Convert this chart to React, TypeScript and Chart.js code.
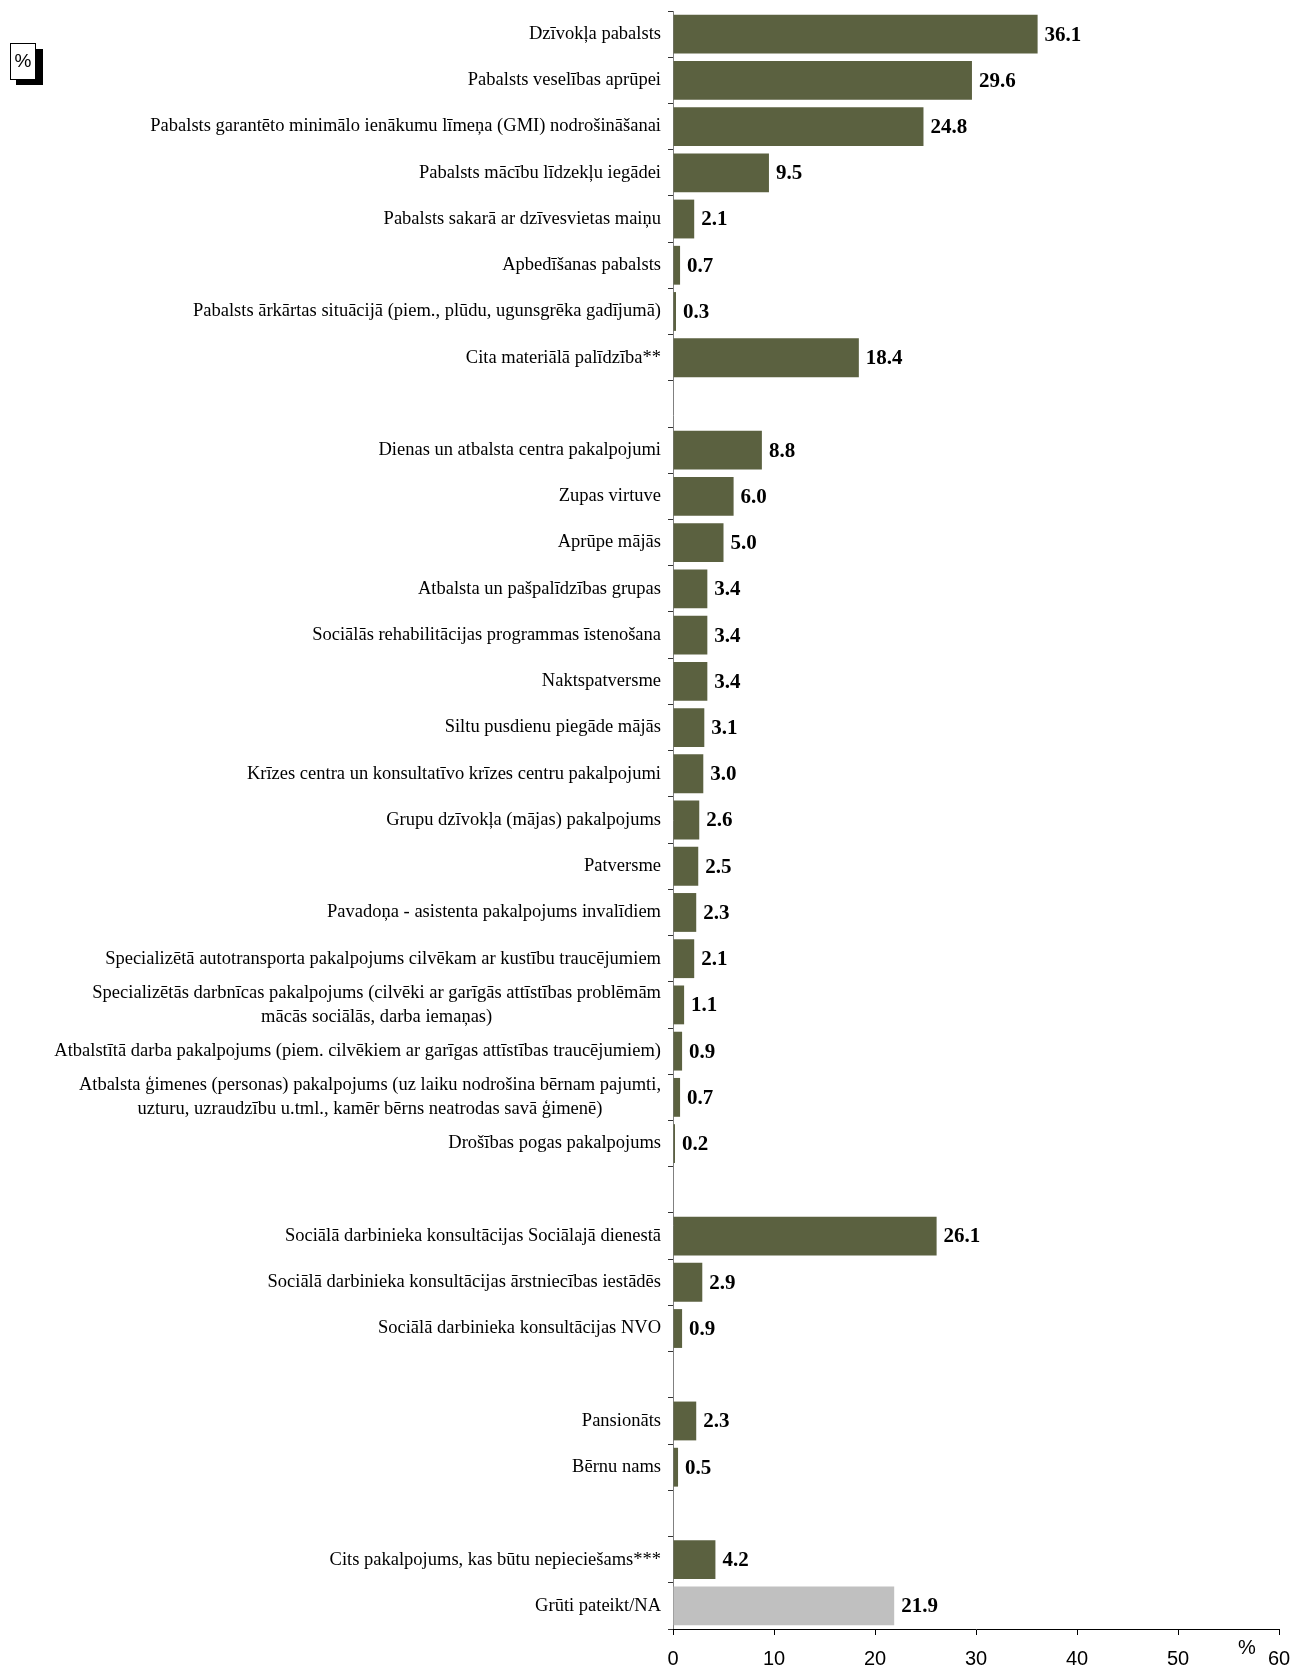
import React, { useEffect, useRef } from 'react';
import { Chart, registerables } from 'chart.js';

Chart.register(...registerables);

// Categories (empty strings are visual gaps between groups)
const categories: (string | string[])[] = [
  'Dzīvokļa pabalsts',
  'Pabalsts veselības aprūpei',
  'Pabalsts garantēto minimālo ienākumu līmeņa (GMI) nodrošināšanai',
  'Pabalsts mācību līdzekļu iegādei',
  'Pabalsts sakarā ar dzīvesvietas maiņu',
  'Apbedīšanas pabalsts',
  'Pabalsts ārkārtas situācijā (piem., plūdu, ugunsgrēka gadījumā)',
  'Cita materiālā palīdzība**',
  '',
  'Dienas un atbalsta centra pakalpojumi',
  'Zupas virtuve',
  'Aprūpe mājās',
  'Atbalsta un pašpalīdzības grupas',
  'Sociālās rehabilitācijas programmas īstenošana',
  'Naktspatversme',
  'Siltu pusdienu piegāde mājās',
  'Krīzes centra un konsultatīvo krīzes centru pakalpojumi',
  'Grupu dzīvokļa (mājas) pakalpojums',
  'Patversme',
  'Pavadoņa - asistenta pakalpojums invalīdiem',
  'Specializētā autotransporta pakalpojums cilvēkam ar kustību traucējumiem',
  ['Specializētās darbnīcas pakalpojums (cilvēki ar garīgās attīstības problēmām', 'mācās sociālās, darba iemaņas)'],
  'Atbalstītā darba pakalpojums (piem. cilvēkiem ar garīgas attīstības traucējumiem)',
  ['Atbalsta ģimenes (personas) pakalpojums (uz laiku nodrošina bērnam pajumti,', 'uzturu, uzraudzību u.tml., kamēr bērns neatrodas savā ģimenē)'],
  'Drošības pogas pakalpojums',
  '',
  'Sociālā darbinieka konsultācijas Sociālajā dienestā',
  'Sociālā darbinieka konsultācijas ārstniecības iestādēs',
  'Sociālā darbinieka konsultācijas NVO',
  '',
  'Pansionāts',
  'Bērnu nams',
  '',
  'Cits pakalpojums, kas būtu nepieciešams***',
  'Grūti pateikt/NA',
];

const values: (number | null)[] = [
  36.1, 29.6, 24.8, 9.5, 2.1, 0.7, 0.3, 18.4,
  null,
  8.8, 6.0, 5.0, 3.4, 3.4, 3.4, 3.1, 3.0, 2.6, 2.5, 2.3, 2.1, 1.1, 0.9, 0.7, 0.2,
  null,
  26.1, 2.9, 0.9,
  null,
  2.3, 0.5,
  null,
  4.2, 21.9,
];

const neutralCategory = 'Grūti pateikt/NA';
const xMin = 0;
const xMax = 60;
const xStep = 10;
const unitLabel = '%';

const OLIVE = '#5B6140';
const GRAY = '#C0C0C0';
const SERIF = '"Liberation Serif", "Times New Roman", serif';
const SANS = '"Liberation Sans", Arial, sans-serif';

const W = 1293;
const H = 1668;

export default function App() {
  const ref = useRef<HTMLCanvasElement | null>(null);

  useEffect(() => {
    if (!ref.current) return;

    const labelsPlugin = {
      id: 'customLabels',
      afterDraw(chart: any) {
        const ctx = chart.ctx;
        const yScale = chart.scales.y;
        const xScale = chart.scales.x;
        ctx.save();
        // Category labels
        ctx.font = `18.5px ${SERIF}`;
        ctx.fillStyle = '#000';
        ctx.textBaseline = 'middle';
        const rightX = yScale.right - 12;
        const lineH = 24;
        categories.forEach((lab, i) => {
          if (!lab || (typeof lab === 'string' && lab.length === 0)) return;
          const y = yScale.getPixelForValue(i);
          if (Array.isArray(lab)) {
            const widths = lab.map((l) => ctx.measureText(l).width);
            const maxW = Math.max(...widths);
            const cx = rightX - maxW / 2;
            ctx.textAlign = 'center';
            const startY = y - ((lab.length - 1) * lineH) / 2;
            lab.forEach((l, k) => ctx.fillText(l, cx, startY + k * lineH));
          } else {
            ctx.textAlign = 'right';
            ctx.fillText(lab, rightX, y);
          }
        });
        // Value labels
        ctx.font = `bold 21px ${SERIF}`;
        ctx.textAlign = 'left';
        const meta = chart.getDatasetMeta(0);
        meta.data.forEach((el: any, i: number) => {
          const v = values[i];
          if (v === null || v === undefined) return;
          ctx.fillText(v.toFixed(1), el.x + 7, el.y + 1);
        });
        // Unit near x axis end
        ctx.font = `20px ${SANS}`;
        ctx.textAlign = 'center';
        ctx.fillText(unitLabel, xScale.right - 32, xScale.top + 19);
        // Boxed % in top-left corner
        ctx.fillStyle = '#000';
        ctx.fillRect(16, 49, 27, 36);
        ctx.fillStyle = '#fff';
        ctx.fillRect(10, 43, 25, 36);
        ctx.strokeStyle = '#000';
        ctx.lineWidth = 1;
        ctx.strokeRect(10.5, 43.5, 25, 36);
        ctx.fillStyle = '#000';
        ctx.font = `19px ${SANS}`;
        ctx.fillText(unitLabel, 23, 62);
        ctx.restore();
      },
    };

    const chart = new Chart(ref.current, {
      type: 'bar',
      data: {
        labels: categories.map((c) => (Array.isArray(c) ? c.join(' ') : c)),
        datasets: [
          {
            data: values,
            backgroundColor: categories.map((c) => (c === neutralCategory ? GRAY : OLIVE)),
            borderWidth: 0,
            barPercentage: 0.84,
            categoryPercentage: 1,
          },
        ],
      },
      options: {
        indexAxis: 'y',
        responsive: false,
        animation: false,
        devicePixelRatio: 1,
        layout: { padding: { top: 11, right: 0, left: 0, bottom: 0 } },
        plugins: {
          legend: { display: false },
          tooltip: { enabled: false },
        },
        scales: {
          y: {
            type: 'category',
            offset: true,
            grid: {
              offset: true,
              drawOnChartArea: false,
              drawTicks: true,
              tickLength: 5,
              color: '#333',
            },
            border: { display: true, color: '#808080', width: 1 },
            ticks: { display: false, autoSkip: false },
            afterFit(scale: any) {
              scale.width = 673;
            },
          },
          x: {
            min: xMin,
            max: xMax,
            grid: {
              drawOnChartArea: false,
              drawTicks: true,
              tickLength: 6,
              color: '#000',
            },
            border: { display: true, color: '#000', width: 1 },
            ticks: {
              stepSize: xStep,
              color: '#000',
              font: { family: SANS, size: 20 },
              padding: 12,
              maxRotation: 0,
            },
            afterFit(scale: any) {
              scale.height = 39;
              scale.paddingRight = 14;
              scale.paddingLeft = 0;
            },
          },
        },
      },
      plugins: [labelsPlugin],
    } as any);

    return () => chart.destroy();
  }, []);

  return (
    <div style={{ position: 'absolute', left: 0, top: 0, width: W, height: H, background: '#fff' }}>
      <canvas ref={ref} width={W} height={H} style={{ display: 'block' }} />
    </div>
  );
}
